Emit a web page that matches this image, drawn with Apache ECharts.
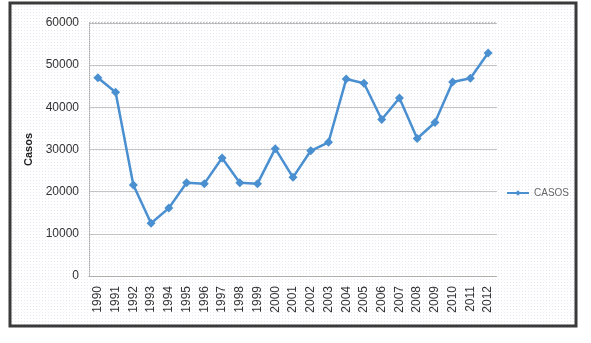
<!DOCTYPE html>
<html>
<head>
<meta charset="utf-8">
<script src="https://cdn.jsdelivr.net/npm/echarts@6/dist/echarts.min.js"></script>
<style>
  html, body { margin: 0; padding: 0; background: #fff; }
  #chart { width: 591px; height: 343px; }
</style>
</head>
<body>
<div id="chart"></div>
<script>
const years = ['1990', '1991', '1992', '1993', '1994', '1995', '1996', '1997', '1998', '1999', '2000', '2001',
    '2002', '2003', '2004', '2005', '2006', '2007', '2008', '2009', '2010', '2011', '2012'];
const casos = [47000, 43600, 21600, 12500, 16100, 22100, 21900, 28000, 22100, 21900, 30200, 23400,
    29700, 31700, 46700, 45700, 37100, 42200, 32600, 36400, 46000, 46900, 52900];
const seriesName = 'CASOS';
const yTitle = 'Casos';

// fondo punteado
const pat = document.createElement('canvas');
pat.width = 3; pat.height = 3;
const pc = pat.getContext('2d');
pc.fillStyle = '#ffffff';
pc.fillRect(0, 0, 3, 3);
pc.fillStyle = '#e6e7f3';
pc.fillRect(0, 0, 1, 1);

const chart = echarts.init(document.getElementById('chart'));

const option = {
    backgroundColor: '#ffffff',
    animation: false,
    textStyle: { fontFamily: 'Liberation Sans, Arial, sans-serif' },
    graphic: [
        {
            type: 'rect',
            z: -10,
            shape: { x: 10, y: 3, width: 566, height: 323 },
            style: { fill: { image: pat, repeat: 'repeat' }, stroke: '#3a3a3a', lineWidth: 3 }
        }
    ],
    grid: { left: 89, right: 94, top: 23, bottom: 67 },
    legend: {
        data: [seriesName],
        orient: 'vertical',
        left: 501,
        top: 183,
        itemWidth: 22,
        itemHeight: 7,
        itemGap: 4,
        textStyle: { fontSize: 10, color: '#666' }
    },
    xAxis: {
        type: 'category',
        data: years,
        boundaryGap: true,
        axisLine: { show: true, lineStyle: { color: '#aaa', type: 'dotted', width: 1 } },
        axisTick: { show: false },
        axisLabel: {
            rotate: 90,
            interval: 0,
            fontSize: 12,
            color: '#333',
            margin: 10
        },
        splitLine: { show: false }
    },
    yAxis: {
        type: 'value',
        min: 0,
        max: 60000,
        interval: 10000,
        name: yTitle,
        nameLocation: 'middle',
        nameGap: 54,
        nameRotate: 90,
        nameTextStyle: { fontSize: 11, fontWeight: 'bold', color: '#222' },
        axisLine: { show: true, lineStyle: { color: '#aaa', type: 'dotted', width: 1 } },
        axisTick: { show: false },
        axisLabel: { fontSize: 12, color: '#333', margin: 10, formatter: v => String(v) },
        splitLine: { show: true, lineStyle: { color: '#c4c4c4', width: 1 } }
    },
    series: [
        {
            name: seriesName,
            type: 'line',
            data: casos,
            symbol: 'diamond',
            symbolSize: 9,
            lineStyle: { color: '#4a8fd0', width: 2.5 },
            itemStyle: { color: '#4a8fd0' }
        },
        {
            // borde superior punteado
            type: 'line',
            data: [],
            markLine: {
                silent: true,
                symbol: 'none',
                label: { show: false },
                lineStyle: { color: '#aaa', type: 'dotted', width: 1.5 },
                data: [{ yAxis: 60000 }]
            }
        }
    ]
};

chart.setOption(option);
</script>
</body>
</html>
